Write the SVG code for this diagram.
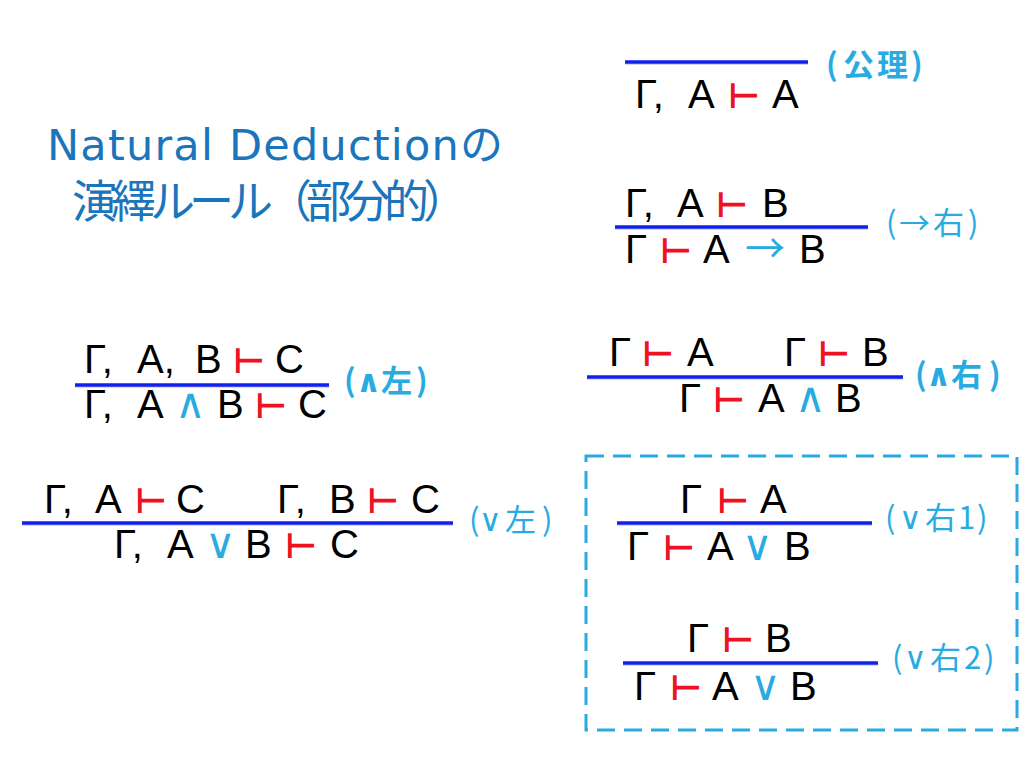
<svg xmlns="http://www.w3.org/2000/svg" width="1024" height="758" viewBox="0 0 1024 758">
<style>
.f{font-family:"Liberation Sans","DejaVu Sans",sans-serif;font-size:40px;fill:#000}
.t{font-family:"DejaVu Sans",sans-serif;font-size:35px;font-weight:bold;fill:#ee1122}
.o{font-family:"DejaVu Sans",sans-serif;font-size:42px;fill:#29abe2}
.ar{font-family:"Noto Sans CJK JP","DejaVu Sans",sans-serif;font-size:40px;fill:#29abe2}
.r{stroke:#1020f0;stroke-width:3.5}
.sh{stroke:#000;stroke-opacity:0.15;stroke-width:2}
.lb{font-family:"Noto Sans CJK JP","DejaVu Sans",sans-serif;font-size:31px;fill:#29abe2}
.lo{font-family:"DejaVu Sans",sans-serif;font-size:31px}
.b{font-weight:bold}
.title{font-family:"DejaVu Sans","Noto Sans CJK JP",sans-serif;fill:#1b75bc}
</style>
<rect width="1024" height="758" fill="#fff"/>

<g id="title">
<text class="title" x="47" y="160" font-size="43" textLength="456" lengthAdjust="spacing">Natural Deductionの</text>
<text class="title" x="72" y="218" font-size="45" textLength="396" lengthAdjust="spacing" style="font-family:'Noto Sans CJK JP',sans-serif">演繹ルール（部分的）</text>
</g>

<g id="rule-axiom">
<line class="sh" x1="625" y1="64" x2="808" y2="64"/>
<line class="r" x1="625" y1="62" x2="808" y2="62"/>
<text class="f" y="108"><tspan x="635">Γ,</tspan><tspan x="688">A</tspan><tspan class="t" x="728">⊢</tspan><tspan x="772">A</tspan></text>
<text class="lb b" y="76"><tspan x="826">(</tspan><tspan x="843">公</tspan><tspan x="877">理</tspan><tspan x="911">)</tspan></text>
</g>

<g id="rule-imp-right">
<text class="f" y="217"><tspan x="625">Γ,</tspan><tspan x="677">A</tspan><tspan class="t" x="716">⊢</tspan><tspan x="762">B</tspan></text>
<line class="sh" x1="615" y1="229" x2="868" y2="229"/>
<line class="r" x1="615" y1="227" x2="868" y2="227"/>
<text class="f" y="263"><tspan x="625">Γ</tspan><tspan class="t" x="660">⊢</tspan><tspan x="703">A</tspan><tspan class="ar" x="745">→</tspan><tspan x="799">B</tspan></text>
<text class="lb" y="234"><tspan x="886">(</tspan><tspan x="899">→</tspan><tspan x="933">右</tspan><tspan x="968">)</tspan></text>
</g>

<g id="rule-and-right">
<text class="f" y="366"><tspan x="609">Γ</tspan><tspan class="t" x="642">⊢</tspan><tspan x="687">A</tspan><tspan x="784">Γ</tspan><tspan class="t" x="818">⊢</tspan><tspan x="862">B</tspan></text>
<line class="sh" x1="587" y1="379" x2="903" y2="379"/>
<line class="r" x1="587" y1="377" x2="903" y2="377"/>
<text class="f" y="412"><tspan x="679">Γ</tspan><tspan class="t" x="713">⊢</tspan><tspan x="758">A</tspan><tspan class="o" x="795">∧</tspan><tspan x="835">B</tspan></text>
<text class="lb b" y="386"><tspan x="915">(</tspan><tspan class="lo" x="926">∧</tspan><tspan x="951">右</tspan><tspan x="989">)</tspan></text>
</g>

<g id="rule-and-left">
<text class="f" y="373"><tspan x="84">Γ,</tspan><tspan x="137">A,</tspan><tspan x="195">B</tspan><tspan class="t" x="233">⊢</tspan><tspan x="275">C</tspan></text>
<line class="sh" x1="75" y1="387" x2="329" y2="387"/>
<line class="r" x1="75" y1="385" x2="329" y2="385"/>
<text class="f" y="418"><tspan x="84">Γ,</tspan><tspan x="137">A</tspan><tspan class="o" x="175">∧</tspan><tspan x="217">B</tspan><tspan class="t" x="255">⊢</tspan><tspan x="298">C</tspan></text>
<text class="lb b" y="392"><tspan x="344">(</tspan><tspan class="lo" x="356">∧</tspan><tspan x="381">左</tspan><tspan x="416">)</tspan></text>
</g>

<g id="rule-or-left">
<text class="f" y="513"><tspan x="44">Γ,</tspan><tspan x="95">A</tspan><tspan class="t" x="135">⊢</tspan><tspan x="176">C</tspan><tspan x="277">Γ,</tspan><tspan x="329">B</tspan><tspan class="t" x="367">⊢</tspan><tspan x="411">C</tspan></text>
<line class="sh" x1="22" y1="525" x2="453" y2="525"/>
<line class="r" x1="22" y1="523" x2="453" y2="523"/>
<text class="f" y="558"><tspan x="114">Γ,</tspan><tspan x="167">A</tspan><tspan class="o" x="205">∨</tspan><tspan x="245">B</tspan><tspan class="t" x="285">⊢</tspan><tspan x="330">C</tspan></text>
<text class="lb" y="531"><tspan x="469">(</tspan><tspan class="lo" x="479">∨</tspan><tspan x="505">左</tspan><tspan x="542">)</tspan></text>
</g>

<g id="or-right-box">
<rect x="586" y="456" width="431" height="274" fill="none" stroke="#29abe2" stroke-width="3" stroke-dasharray="18 9"/>
</g>

<g id="rule-or-right1">
<text class="f" y="513"><tspan x="680">Γ</tspan><tspan class="t" x="717">⊢</tspan><tspan x="760">A</tspan></text>
<line class="sh" x1="617" y1="525" x2="872" y2="525"/>
<line class="r" x1="617" y1="523" x2="872" y2="523"/>
<text class="f" y="560"><tspan x="627">Γ</tspan><tspan class="t" x="663">⊢</tspan><tspan x="707">A</tspan><tspan class="o" x="742">∨</tspan><tspan x="784">B</tspan></text>
<text class="lb" y="529"><tspan x="885">(</tspan><tspan class="lo" x="899">∨</tspan><tspan x="925">右</tspan><tspan x="958">1</tspan><tspan x="977">)</tspan></text>
</g>

<g id="rule-or-right2">
<text class="f" y="652"><tspan x="687">Γ</tspan><tspan class="t" x="722">⊢</tspan><tspan x="765">B</tspan></text>
<line class="sh" x1="623" y1="665" x2="878" y2="665"/>
<line class="r" x1="623" y1="663" x2="878" y2="663"/>
<text class="f" y="700"><tspan x="634">Γ</tspan><tspan class="t" x="670">⊢</tspan><tspan x="712">A</tspan><tspan class="o" x="750">∨</tspan><tspan x="790">B</tspan></text>
<text class="lb" y="669"><tspan x="892">(</tspan><tspan class="lo" x="904">∨</tspan><tspan x="930">右</tspan><tspan x="964">2</tspan><tspan x="984">)</tspan></text>
</g>

<g id="connectors"/>
</svg>
